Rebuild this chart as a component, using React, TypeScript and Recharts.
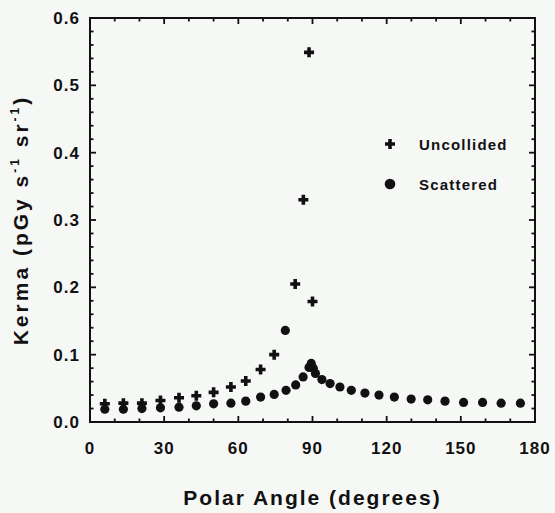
import React from "react";
import { ScatterChart, Scatter, XAxis, YAxis, Legend, Label } from "recharts";

const xTicks = [0, 10, 20, 30, 40, 50, 60, 70, 80, 90, 100, 110, 120, 130, 140, 150, 160, 170, 180];
const yTicks = [
  0, 0.02, 0.04, 0.06, 0.08, 0.1, 0.12, 0.14, 0.16, 0.18, 0.2, 0.22, 0.24, 0.26, 0.28, 0.3,
  0.32, 0.34, 0.36, 0.38, 0.4, 0.42, 0.44, 0.46, 0.48, 0.5, 0.52, 0.54, 0.56, 0.58, 0.6,
];

const uncollidedAngle = [6, 13.5, 21, 28.5, 36, 43, 50, 57, 63, 69, 74.5, 83, 86.3, 88.6, 90];
const uncollidedKerma = [0.027, 0.028, 0.028, 0.032, 0.036, 0.039, 0.044, 0.052, 0.061, 0.078, 0.1, 0.205, 0.33, 0.549, 0.179];

const scatteredAngle = [
  6, 13.5, 21, 28.5, 36, 43, 50, 57, 63, 69, 74.5, 79, 79.3, 83.2, 86.2, 88.6, 89.5, 90.3, 91.2,
  93.8, 97.1, 101.1, 105.7, 111.2, 116.9, 123.1, 129.9, 136.6, 143.6, 151.1, 158.8, 166.3, 174.1,
];
const scatteredKerma = [
  0.019, 0.019, 0.02, 0.021, 0.022, 0.024, 0.027, 0.028, 0.031, 0.037, 0.041, 0.136, 0.047, 0.055,
  0.067, 0.081, 0.087, 0.08, 0.072, 0.063, 0.057, 0.052, 0.047, 0.043, 0.04, 0.037, 0.034, 0.033,
  0.031, 0.029, 0.029, 0.028, 0.028,
];

const uncollided = uncollidedAngle.map((a, i) => ({ angle: a, kerma: uncollidedKerma[i] }));
const scattered = scatteredAngle.map((a, i) => ({ angle: a, kerma: scatteredKerma[i] }));

const FONT = '"Liberation Sans", Arial, Helvetica, sans-serif';
const INK = "#111111";
const BG = "#f6f8f6";

const X_DOMAIN = [0, 180];
const Y_DOMAIN = [0, 0.6];

const CHART_W = 555;
const CHART_H = 513;
const MARGIN = { top: 18, right: 20, bottom: 0, left: 0 };
const X_AXIS_H = 91;
const Y_AXIS_W = 90;
const PLOT_L = MARGIN.left + Y_AXIS_W;
const PLOT_T = MARGIN.top;
const PLOT_W = CHART_W - MARGIN.right - PLOT_L;
const PLOT_H = CHART_H - MARGIN.top - X_AXIS_H;

const isMajorX = (v: number) => v % 30 === 0;
const isMajorY = (v: number) => Math.round(v * 100) % 10 === 0;

const sx = (v: number) => PLOT_L + ((v - X_DOMAIN[0]) / (X_DOMAIN[1] - X_DOMAIN[0])) * PLOT_W;
const sy = (v: number) => PLOT_T + PLOT_H - ((v - Y_DOMAIN[0]) / (Y_DOMAIN[1] - Y_DOMAIN[0])) * PLOT_H;

const BottomTick = (p: any) => {
  const v = Number(p.payload.value);
  if (!isMajorX(v)) return <g />;
  return (
    <text x={p.x} y={Number(p.y) + 32} textAnchor="middle" fontSize={17} fontWeight="bold" fontFamily={FONT} fill={INK} letterSpacing={1}>
      {v}
    </text>
  );
};

const LeftTick = (p: any) => {
  const v = Number(p.payload.value);
  if (!isMajorY(v)) return <g />;
  return (
    <text x={Number(p.x) - 10} y={Number(p.y) + 6} textAnchor="end" fontSize={17} fontWeight="bold" fontFamily={FONT} fill={INK} letterSpacing={1}>
      {v.toFixed(1)}
    </text>
  );
};

// Frame drawn with filled rectangles (no strokes) on top of the chart.
const FrameOverlay = () => {
  const bars: React.ReactElement[] = [];
  const T = 2;
  bars.push(<rect key="top" x={PLOT_L - 1} y={PLOT_T - 1} width={PLOT_W + 2} height={T} fill={INK} />);
  bars.push(<rect key="bottom" x={PLOT_L - 1} y={PLOT_T + PLOT_H - 1} width={PLOT_W + 2} height={T} fill={INK} />);
  bars.push(<rect key="left" x={PLOT_L - 1} y={PLOT_T - 1} width={T} height={PLOT_H + 2} fill={INK} />);
  bars.push(<rect key="right" x={PLOT_L + PLOT_W - 1} y={PLOT_T - 1} width={T} height={PLOT_H + 2} fill={INK} />);
  xTicks.forEach((v) => {
    const len = isMajorX(v) ? 6 : 3.5;
    const x = sx(v);
    bars.push(<rect key={`xb${v}`} x={x - 0.9} y={PLOT_T + PLOT_H - len} width={1.8} height={len} fill={INK} />);
    bars.push(<rect key={`xt${v}`} x={x - 0.9} y={PLOT_T} width={1.8} height={len} fill={INK} />);
  });
  yTicks.forEach((v) => {
    const len = isMajorY(v) ? 6 : 3.5;
    const y = sy(v);
    bars.push(<rect key={`yl${v}`} x={PLOT_L} y={y - 0.9} width={len} height={1.8} fill={INK} />);
    bars.push(<rect key={`yr${v}`} x={PLOT_L + PLOT_W - len} y={y - 0.9} width={len} height={1.8} fill={INK} />);
  });
  return (
    <svg
      width={CHART_W}
      height={CHART_H}
      style={{ position: "absolute", left: 0, top: 0, pointerEvents: "none", zIndex: 10 }}
    >
      {bars}
    </svg>
  );
};

const PlusMark = ({ cx, cy, s = 10, t = 3.6 }: any) => (
  <path
    d={`M${cx - t / 2},${cy - s / 2}h${t}v${(s - t) / 2}h${(s - t) / 2}v${t}h${-(s - t) / 2}v${(s - t) / 2}h${-t}v${-(s - t) / 2}h${-(s - t) / 2}v${-t}h${(s - t) / 2}z`}
    fill={INK}
  />
);

const DotMark = ({ cx, cy, r = 4.6 }: any) => <circle cx={cx} cy={cy} r={r} fill={INK} />;

const XLabel = (p: any) => {
  const vb = p.viewBox;
  return (
    <text x={vb.x + vb.width / 2} y={vb.y + 83} textAnchor="middle" fontSize={21} fontWeight="bold" fontFamily={FONT} fill={INK} letterSpacing={2}>
      Polar Angle (degrees)
    </text>
  );
};

const YLabel = (p: any) => {
  const vb = p.viewBox;
  const cx = vb.x + 28;
  const cy = vb.y + vb.height / 2;
  return (
    <text x={cx} y={cy} transform={`rotate(-90 ${cx} ${cy})`} textAnchor="middle" fontSize={21} fontWeight="bold" fontFamily={FONT} fill={INK} letterSpacing={3}>
      Kerma (pGy s<tspan dy={-9} fontSize={12}>-1</tspan>
      <tspan dy={9}> sr</tspan>
      <tspan dy={-9} fontSize={12}>-1</tspan>
      <tspan dy={9}>)</tspan>
    </text>
  );
};

const LegendContent = () => (
  <div style={{ fontFamily: FONT, fontSize: 15, fontWeight: "bold", color: INK, letterSpacing: 1.2 }}>
    {[
      { name: "Uncollided", mark: <PlusMark cx={10} cy={10} /> },
      { name: "Scattered", mark: <DotMark cx={10} cy={10} r={5.3} /> },
    ].map((it, i) => (
      <div key={it.name} style={{ display: "flex", alignItems: "center", height: 20, marginBottom: i === 0 ? 20 : 0 }}>
        <svg width={20} height={20}>{it.mark}</svg>
        <span style={{ marginLeft: 19 }}>{it.name}</span>
      </div>
    ))}
  </div>
);

export default function App() {
  return (
    <div style={{ position: "absolute", left: 0, top: 0, width: CHART_W, height: CHART_H, background: BG, overflow: "hidden" }}>
      <ScatterChart width={CHART_W} height={CHART_H} margin={MARGIN}>
        <XAxis
          dataKey="angle"
          type="number"
          domain={X_DOMAIN}
          ticks={xTicks}
          interval={0}
          height={X_AXIS_H}
          tickSize={0}
          tickMargin={0}
          tick={<BottomTick />}
          tickLine={false}
          axisLine={false}
        >
          <Label content={<XLabel />} />
        </XAxis>
        <YAxis
          dataKey="kerma"
          type="number"
          domain={Y_DOMAIN}
          ticks={yTicks}
          interval={0}
          width={Y_AXIS_W}
          tickSize={0}
          tickMargin={0}
          tick={<LeftTick />}
          tickLine={false}
          axisLine={false}
        >
          <Label content={<YLabel />} />
        </YAxis>
        <Legend
          layout="horizontal"
          verticalAlign="middle"
          align="center"
          wrapperStyle={{ left: 380, top: 134, width: 160 }}
          content={<LegendContent />}
        />
        <Scatter
          name="Uncollided"
          data={uncollided}
          isAnimationActive={false}
          shape={(p: any) => <PlusMark cx={p.cx} cy={p.cy} />}
        />
        <Scatter
          name="Scattered"
          data={scattered}
          isAnimationActive={false}
          shape={(p: any) => <DotMark cx={p.cx} cy={p.cy} />}
        />
      </ScatterChart>
      <FrameOverlay />
    </div>
  );
}
